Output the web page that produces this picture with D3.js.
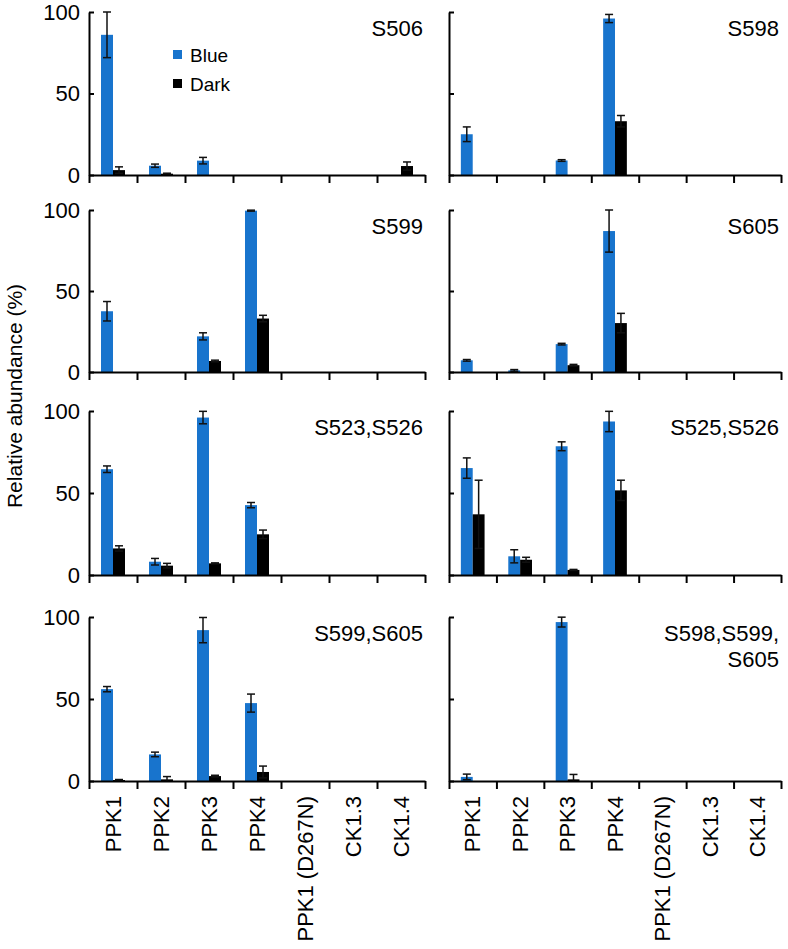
<!DOCTYPE html>
<html>
<head>
<meta charset="utf-8">
<script src="https://cdn.jsdelivr.net/npm/d3@7"></script>
<style>
  html, body { margin: 0; padding: 0; background: #fff; }
  svg { display: block; font-family: "Liberation Sans", Arial, Helvetica, sans-serif; }
</style>
</head>
<body>
<svg id="chart" width="788" height="949"></svg>
<script>
// ---------- data ----------
const categories = ["PPK1", "PPK2", "PPK3", "PPK4", "PPK1 (D267N)", "CK1.3", "CK1.4"];
const seriesNames = ["Blue", "Dark"];
const panelTitles = [["S506"], ["S598"], ["S599"], ["S605"], ["S523,S526"], ["S525,S526"], ["S599,S605"], ["S598,S599,", "S605"]];
const yTickValues = [0, 50, 100];
const yLabel = "Relative abundance (%)";

const blueValues = [
  [86, 5.7, 8.8, 0, 0, 0, 0],
  [25, 0, 8.9, 96, 0, 0, 0],
  [37.5, 0, 22, 99.6, 0, 0, 0],
  [7.2, 1, 17.2, 87, 0, 0, 0],
  [64.5, 8.1, 96, 42.6, 0, 0, 0],
  [65.2, 11.4, 78.5, 93.6, 0, 0, 0],
  [56, 16.2, 92, 47.5, 0, 0, 0],
  [2.5, 0, 96.9, 0, 0, 0, 0]
];
const blueErrors = [
  [14, 1, 2, 0, 0, 0, 0],
  [4.5, 0, 0.5, 2.5, 0, 0, 0],
  [6, 0, 2.2, 0.3, 0, 0, 0],
  [0.5, 0.5, 0.5, 13, 0, 0, 0],
  [2, 2, 3.8, 1.6, 0, 0, 0],
  [6.2, 4, 2.7, 6.2, 0, 0, 0],
  [1.6, 1.4, 7.7, 5.5, 0, 0, 0],
  [1.7, 0, 3, 0, 0, 0, 0]
];
const darkValues = [
  [3, 0.8, 0, 0, 0, 0, 5.5],
  [0, 0, 0, 33, 0, 0, 0],
  [0, 0, 6.8, 33, 0, 0, 0],
  [0, 0, 4.2, 30.2, 0, 0, 0],
  [16.2, 5.7, 7.1, 24.8, 0, 0, 0],
  [37, 9.3, 3.1, 51.6, 0, 0, 0],
  [0.6, 1, 3, 5.5, 0, 0, 0],
  [0, 0, 1, 0, 0, 0, 0]
];
const darkErrors = [
  [2, 0.3, 0, 0, 0, 0, 2.5],
  [0, 0, 0, 3.5, 0, 0, 0],
  [0, 0, 0.5, 2, 0, 0, 0],
  [0, 0, 0.5, 6, 0, 0, 0],
  [1.6, 1.4, 0.3, 2.6, 0, 0, 0],
  [20.8, 1.5, 0.3, 6.2, 0, 0, 0],
  [0.3, 1.7, 0.5, 3.6, 0, 0, 0],
  [0, 0, 3, 0, 0, 0, 0]
];

// ---------- layout ----------
const colors = { Blue: "#1874cd", Dark: "#000000" };
const rowTop = [12, 210, 411, 617];
const rowBottom = [175, 372, 575, 781];
const colX = [[89, 425], [449, 781]];
const FS = 22;

const svg = d3.select("#chart");

const panels = panelTitles.map((t, i) => ({
  title: t, row: Math.floor(i / 2), col: i % 2,
  blue: blueValues[i], blueErr: blueErrors[i],
  dark: darkValues[i], darkErr: darkErrors[i]
}));

panels.forEach(p => {
  const [x0, x1] = colX[p.col];
  const yTop = rowTop[p.row], yBot = rowBottom[p.row];
  const g = svg.append("g");

  const x = d3.scaleBand().domain(categories).range([x0, x1]).padding(0);
  const xs = d3.scaleBand().domain(seriesNames).range([x.bandwidth() * 0.25, x.bandwidth() * 0.75]).padding(0);
  const xb = d3.scaleLinear().domain([0, categories.length]).range([x0, x1]);
  const y = d3.scaleLinear().domain([0, 100]).range([yBot, yTop]);

  // bars
  const rows = categories.map((c, j) => [
    { cat: c, s: "Blue", v: p.blue[j], e: p.blueErr[j] },
    { cat: c, s: "Dark", v: p.dark[j], e: p.darkErr[j] }
  ]).flat();

  g.selectAll("rect.bar").data(rows.filter(d => d.v > 0)).join("rect")
    .attr("class", "bar")
    .attr("x", d => x(d.cat) + xs(d.s))
    .attr("width", xs.bandwidth())
    .attr("y", d => y(d.v))
    .attr("height", d => y(0) - y(d.v))
    .attr("fill", d => colors[d.s]);

  // error bars
  const eb = rows.filter(d => d.e > 0);
  const cx = d => x(d.cat) + xs(d.s) + xs.bandwidth() / 2;
  const capW = 4;
  const eg = g.append("g").attr("stroke", "#111").attr("stroke-width", 1.5).attr("fill", "none");
  eg.selectAll("line.v").data(eb).join("line").attr("class", "v")
    .attr("x1", cx).attr("x2", cx)
    .attr("y1", d => y(Math.max(0, d.v - d.e))).attr("y2", d => y(d.v + d.e));
  eg.selectAll("line.t").data(eb).join("line").attr("class", "t")
    .attr("x1", d => cx(d) - capW).attr("x2", d => cx(d) + capW)
    .attr("y1", d => y(d.v + d.e)).attr("y2", d => y(d.v + d.e));
  eg.selectAll("line.b").data(eb.filter(d => d.v - d.e > 0)).join("line").attr("class", "b")
    .attr("x1", d => cx(d) - capW).attr("x2", d => cx(d) + capW)
    .attr("y1", d => y(d.v - d.e)).attr("y2", d => y(d.v - d.e));

  // y axis
  const ya = d3.axisLeft(y).tickValues(yTickValues).tickSize(-5).tickSizeOuter(0).tickPadding(9)
    .tickFormat(p.col === 0 ? d3.format("d") : () => "");
  const yg = g.append("g").attr("transform", `translate(${x0},0)`).call(ya);
  yg.selectAll("path, line").attr("stroke", "#000").attr("stroke-width", 2);
  yg.selectAll("text").attr("font-size", FS).attr("fill", "#000").attr("font-family", "Liberation Sans, Arial, sans-serif");

  // x axis boundaries
  const xa = d3.axisBottom(xb).tickValues(d3.range(categories.length + 1)).tickSize(8).tickSizeOuter(0).tickFormat(() => "");
  const xg = g.append("g").attr("transform", `translate(0,${yBot})`).call(xa);
  xg.selectAll("path, line").attr("stroke", "#000").attr("stroke-width", 2);

  // category labels (bottom row only)
  if (p.row === 3) {
    const la = d3.axisBottom(x).tickSize(0).tickSizeOuter(0);
    const lg = g.append("g").attr("transform", `translate(0,${yBot})`).call(la);
    lg.select(".domain").remove();
    lg.selectAll("text")
      .attr("font-size", FS).attr("fill", "#000").attr("font-family", "Liberation Sans, Arial, sans-serif")
      .attr("transform", "rotate(-90)")
      .attr("text-anchor", "end")
      .attr("x", -15).attr("y", 0).attr("dy", "0.35em");
  }

  // panel title
  const tt = g.append("text")
    .attr("x", x1 - 2).attr("y", yTop + 24)
    .attr("text-anchor", "end").attr("font-size", FS).attr("fill", "#000");
  p.title.forEach((line, k) => {
    tt.append("tspan").attr("x", x1 - 2).attr("dy", k === 0 ? 0 : 26).text(line);
  });

  // legend in first panel
  if (p.row === 0 && p.col === 0) {
    const lgd = g.append("g");
    seriesNames.forEach((s, k) => {
      lgd.append("rect").attr("x", 173).attr("y", 50 + k * 29).attr("width", 9).attr("height", 9).attr("fill", colors[s]);
      lgd.append("text").attr("x", 190).attr("y", 61.5 + k * 29).attr("font-size", 19).attr("fill", "#000").text(s);
    });
  }
});

// y axis title
svg.append("text")
  .attr("transform", "translate(15,396) rotate(-90)")
  .attr("text-anchor", "middle").attr("dy", "0.35em")
  .attr("font-size", 21).attr("fill", "#000")
  .text(yLabel);
</script>
</body>
</html>
